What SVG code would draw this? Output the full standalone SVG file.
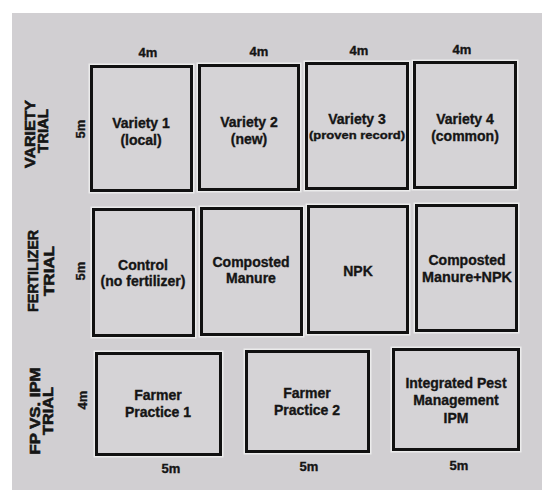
<svg xmlns="http://www.w3.org/2000/svg" width="542" height="490" viewBox="0 0 542 490">
  <style>
    .plot-halo { fill: none; stroke: #ececec; stroke-width: 6; }
    .plot { fill: #d5d3d6; stroke: #111; stroke-width: 3; }
    text { font-family: "Liberation Sans", Arial, sans-serif; font-weight: bold; fill: #151515; stroke: #151515; stroke-width: 0.35; text-anchor: middle; }
    .lbl { font-size: 14px; }
    .sub { font-size: 11px; }
    .dim { font-size: 13px; }
    .trial { font-size: 14px; stroke-width: 0.6; }
  </style>

  <!-- page and field panel -->
  <rect x="0" y="0" width="542" height="490" fill="#ffffff"/>
  <rect x="12" y="13" width="530" height="477" fill="#d1cfd2"/>

  <!-- trial row captions -->
  <g id="variety-trial">
    <text class="trial" transform="translate(35,134) rotate(-90)" textLength="68" lengthAdjust="spacingAndGlyphs">VARIETY</text>
    <text class="trial" transform="translate(48,131) rotate(-90)" textLength="44" lengthAdjust="spacingAndGlyphs">TRIAL</text>
  </g>
  <g id="fertilizer-trial">
    <text class="trial" transform="translate(38,271) rotate(-90)" textLength="82" lengthAdjust="spacingAndGlyphs">FERTILIZER</text>
    <text class="trial" transform="translate(54,271) rotate(-90)" textLength="50" lengthAdjust="spacingAndGlyphs">TRIAL</text>
  </g>
  <g id="ipm-trial">
    <text class="trial" transform="translate(40,411) rotate(-90)" textLength="87" lengthAdjust="spacingAndGlyphs">FP VS. IPM</text>
    <text class="trial" transform="translate(53,411) rotate(-90)" textLength="48" lengthAdjust="spacingAndGlyphs">TRIAL</text>
  </g>

  <!-- dimension labels -->
  <g id="dimensions">
    <text class="dim" x="148" y="57">4m</text>
    <text class="dim" x="259" y="56">4m</text>
    <text class="dim" x="359" y="55">4m</text>
    <text class="dim" x="462" y="54">4m</text>
    <text class="dim" transform="translate(85,129) rotate(-90)">5m</text>
    <text class="dim" transform="translate(85,271) rotate(-90)">5m</text>
    <text class="dim" transform="translate(87,400) rotate(-90)">4m</text>
    <text class="dim" x="171" y="473">5m</text>
    <text class="dim" x="309" y="471">5m</text>
    <text class="dim" x="459" y="470">5m</text>
  </g>

  <!-- variety trial plots -->
  <g id="variety-1">
    <rect class="plot-halo" x="91.5" y="66.5" width="100" height="124"/>
    <rect class="plot" x="91.5" y="66.5" width="100" height="124"/>
    <text class="lbl" x="141" y="128">Variety 1</text>
    <text class="lbl" x="141" y="145">(local)</text>
  </g>
  <g id="variety-2">
    <rect class="plot-halo" x="199.5" y="65.5" width="99" height="124"/>
    <rect class="plot" x="199.5" y="65.5" width="99" height="124"/>
    <text class="lbl" x="249" y="127">Variety 2</text>
    <text class="lbl" x="249" y="144">(new)</text>
  </g>
  <g id="variety-3">
    <rect class="plot-halo" x="306.5" y="63.5" width="101" height="125"/>
    <rect class="plot" x="306.5" y="63.5" width="101" height="125"/>
    <text class="lbl" x="357" y="124">Variety 3</text>
    <text class="sub" x="357" y="139" textLength="96" lengthAdjust="spacingAndGlyphs">(proven record)</text>
  </g>
  <g id="variety-4">
    <rect class="plot-halo" x="414.5" y="62.5" width="101" height="125"/>
    <rect class="plot" x="414.5" y="62.5" width="101" height="125"/>
    <text class="lbl" x="465" y="124">Variety 4</text>
    <text class="lbl" x="465" y="141">(common)</text>
  </g>

  <!-- fertilizer trial plots -->
  <g id="control">
    <rect class="plot-halo" x="93.5" y="209.5" width="100" height="126"/>
    <rect class="plot" x="93.5" y="209.5" width="100" height="126"/>
    <text class="lbl" x="143" y="270">Control</text>
    <text class="lbl" x="143" y="286">(no fertilizer)</text>
  </g>
  <g id="composted-manure">
    <rect class="plot-halo" x="201.5" y="208.5" width="100" height="126"/>
    <rect class="plot" x="201.5" y="208.5" width="100" height="126"/>
    <text class="lbl" x="251" y="267">Composted</text>
    <text class="lbl" x="251" y="283">Manure</text>
  </g>
  <g id="npk">
    <rect class="plot-halo" x="308.5" y="206.5" width="99" height="126"/>
    <rect class="plot" x="308.5" y="206.5" width="99" height="126"/>
    <text class="lbl" x="358" y="276">NPK</text>
  </g>
  <g id="manure-npk">
    <rect class="plot-halo" x="416.5" y="205.5" width="100" height="125"/>
    <rect class="plot" x="416.5" y="205.5" width="100" height="125"/>
    <text class="lbl" x="467" y="265">Composted</text>
    <text class="lbl" x="467" y="282" textLength="90" lengthAdjust="spacingAndGlyphs">Manure+NPK</text>
  </g>

  <!-- FP vs. IPM trial plots -->
  <g id="farmer-practice-1">
    <rect class="plot-halo" x="96.5" y="353.5" width="124" height="101"/>
    <rect class="plot" x="96.5" y="353.5" width="124" height="101"/>
    <text class="lbl" x="158" y="400">Farmer</text>
    <text class="lbl" x="158" y="417">Practice 1</text>
  </g>
  <g id="farmer-practice-2">
    <rect class="plot-halo" x="246.5" y="351.5" width="122" height="100"/>
    <rect class="plot" x="246.5" y="351.5" width="122" height="100"/>
    <text class="lbl" x="307" y="398">Farmer</text>
    <text class="lbl" x="307" y="415">Practice 2</text>
  </g>
  <g id="ipm">
    <rect class="plot-halo" x="393.5" y="349.5" width="125" height="100"/>
    <rect class="plot" x="393.5" y="349.5" width="125" height="100"/>
    <text class="lbl" x="456" y="388">Integrated Pest</text>
    <text class="lbl" x="456" y="405">Management</text>
    <text class="lbl" x="456" y="423">IPM</text>
  </g>

  <!-- no connectors in this layout -->
  <g id="connectors"/>
</svg>
